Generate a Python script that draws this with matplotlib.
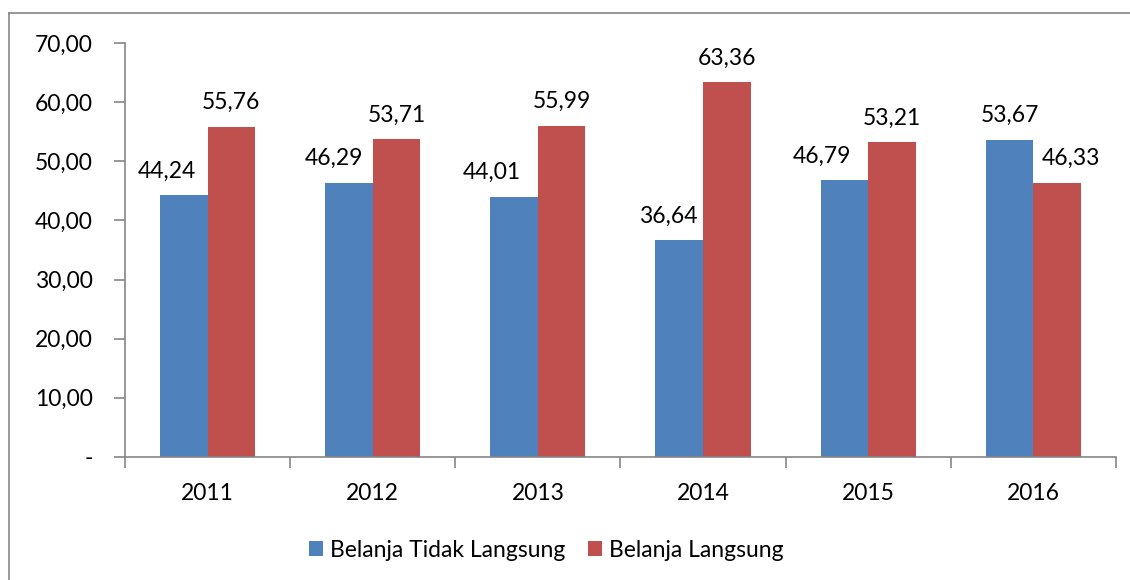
import numpy as np
import matplotlib
matplotlib.use('Agg')
from matplotlib import pyplot as plt
from matplotlib.lines import Line2D
from matplotlib.ticker import FuncFormatter, FixedLocator, NullFormatter

years = ['2011', '2012', '2013', '2014', '2015', '2016']
tidak_langsung = [44.24, 46.29, 44.01, 36.64, 46.79, 53.67]
langsung = [55.76, 53.71, 55.99, 63.36, 53.21, 46.33]
series_names = ['Belanja Tidak Langsung', 'Belanja Langsung']

# sideways nudge of the value labels (points) so they clear the neighbouring bar
nudge_tidak = [-12, -11, -16, -8, -16, 0]
nudge_langsung = [0, 0, 0, 0, 0, 10]


def id_fmt(v):
    return ('%.2f' % v).replace('.', ',')


plt.rcParams['font.family'] = ['Lato', 'DejaVu Sans']
plt.rcParams['font.size'] = 16.5

fig = plt.figure(figsize=(11.3, 5.8), dpi=100)
ax = fig.add_axes([0.1106, 0.2121, 0.877, 0.7138])

x = np.arange(len(years))
w = 0.288
b1 = ax.bar(x - w / 2, tidak_langsung, w, color='#4F81BD', label=series_names[0])
b2 = ax.bar(x + w / 2, langsung, w, color='#C0504D', label=series_names[1])

for bars, vals, nudges in ((b1, tidak_langsung, nudge_tidak), (b2, langsung, nudge_langsung)):
    for bar, v, dx in zip(bars, vals, nudges):
        ax.annotate(id_fmt(v), (bar.get_x() + bar.get_width() / 2, v),
                    xytext=(dx, 10), textcoords='offset points',
                    ha='center', va='bottom', fontsize=16.5)

ax.set_xlim(-0.5, len(years) - 0.5)
ax.set_ylim(0, 70)
ax.set_yticks(np.arange(0, 71, 10))
ax.yaxis.set_major_formatter(FuncFormatter(lambda v, p: '-' if v == 0 else id_fmt(v)))

# category labels centred, tick marks on the boundaries
ax.xaxis.set_major_locator(FixedLocator(np.arange(-0.5, len(years), 1)))
ax.xaxis.set_major_formatter(NullFormatter())
ax.xaxis.set_minor_locator(FixedLocator(x))
ax.set_xticklabels(years, minor=True)
ax.tick_params(axis='x', which='minor', length=0, pad=18.5)
ax.tick_params(axis='x', which='major', length=8, color='#868686', width=1.2)
ax.tick_params(axis='y', length=8, color='#868686', width=1.2, pad=15)

for s in ('top', 'right'):
    ax.spines[s].set_visible(False)
for s in ('left', 'bottom'):
    ax.spines[s].set_color('#868686')
    ax.spines[s].set_linewidth(1.2)

ax.legend(loc='center', bbox_to_anchor=(0.425, -0.225), ncol=2, frameon=False,
          handlelength=0.6, handleheight=0.6, handletextpad=0.3, columnspacing=1.0,
          fontsize=16.5)

# chart frame
fig.add_artist(Line2D([9 / 1130, 9 / 1130], [0, 1 - 13 / 580], color='#868686', lw=1.2))
fig.add_artist(Line2D([9 / 1130, 1], [1 - 13 / 580, 1 - 13 / 580], color='#868686', lw=1.2))

fig.savefig('out.png', dpi=100)
